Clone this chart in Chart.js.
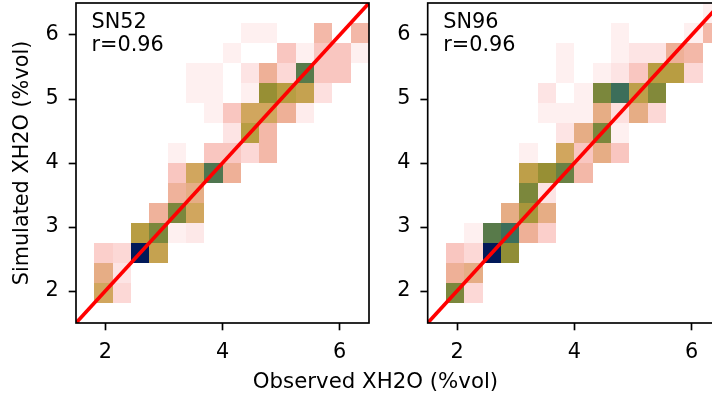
<!DOCTYPE html>
<html>
<head>
<meta charset="utf-8">
<script src="https://cdn.jsdelivr.net/npm/chart.js@4.4.1/dist/chart.umd.min.js"></script>
<style>
  html, body { margin: 0; padding: 0; background: #fff; overflow: hidden; }
  #fig { position: relative; width: 712px; height: 399px; overflow: hidden; background: #fff; }
  #fig canvas { position: absolute; top: 0; }
  #xlabel {
    position: absolute; left: 0; width: 751px; top: 368px;
    text-align: center; font: 21.3px 'DejaVu Sans', sans-serif; line-height: 25px; color: #000;
  }
</style>
</head>
<body>
<div id="fig">
  <canvas id="left" width="372" height="399" style="left:0;width:372px;height:399px"></canvas>
  <canvas id="right" width="358" height="399" style="left:372px;width:358px;height:399px"></canvas>
  <div id="xlabel">Observed XH2O (%vol)</div>
</div>
<script>
// 2-D histogram bin edges (same for both axes), %vol
const binEdges = [1.5, 1.8125, 2.125, 2.4375, 2.75, 3.0625, 3.375, 3.6875, 4,
                  4.3125, 4.625, 4.9375, 5.25, 5.5625, 5.875, 6.1875, 6.5];

// Tick labels
const xTickValues = [2, 4, 6];
const yTickValues = [2, 3, 4, 5, 6];

// Panel titles and correlation
const stationNames = ['SN52', 'SN96'];
const correlations = ['0.96', '0.96'];

// 1:1 reference line
const oneToOneX = [1.5, 6.5];
const oneToOneY = [1.5, 6.5];

// Counts per cell; rows run from the top bin (highest simulated) down,
// columns from the lowest observed bin to the highest.
const countsSN52 = [
  [0,0,0,0,0,0,0,0,0,0,0,0,0,0,0,0],
  [0,0,0,0,0,0,0,0,0,3,3,0,0,18,0,18],
  [0,0,0,0,0,0,0,0,3,0,0,13,3,13,13,3],
  [0,0,0,0,0,0,3,3,0,6,22,9,46,13,13,0],
  [0,0,0,0,0,0,3,3,0,3,38,34,32,7,0,0],
  [0,0,0,0,0,0,0,3,13,30,30,22,4,0,0,0],
  [0,0,0,0,0,0,0,0,6,34,18,0,0,0,0,0],
  [0,0,0,0,0,3,0,13,13,9,18,0,0,0,0,0],
  [0,0,0,0,0,13,30,47,22,0,0,0,0,0,0,0],
  [0,0,0,0,0,21,25,0,0,0,0,0,0,0,0,0],
  [0,0,0,0,21,42,30,0,0,0,0,0,0,0,0,0],
  [0,0,0,34,42,3,5,0,0,0,0,0,0,0,0,0],
  [0,11,9,60,32,0,0,0,0,0,0,0,0,0,0,0],
  [0,25,6,0,0,0,0,0,0,0,0,0,0,0,0,0],
  [0,30,9,0,0,0,0,0,0,0,0,0,0,0,0,0],
  [0,0,0,0,0,0,0,0,0,0,0,0,0,0,0,0]
];

const countsSN96 = [
  [0,0,0,0,0,0,0,0,0,0,0,0,0,0,0,3],
  [0,0,0,0,0,0,0,0,0,0,3,0,0,0,3,18],
  [0,0,0,0,0,0,0,3,0,0,3,6,6,22,18,0],
  [0,0,0,0,0,0,0,3,0,3,6,13,34,34,9,0],
  [0,0,0,0,0,0,6,0,3,42,49,33,41,0,0,0],
  [0,0,0,0,0,0,3,3,3,25,7,25,9,0,0,0],
  [0,0,0,0,0,0,0,6,25,42,3,0,0,0,0,0],
  [0,0,0,0,0,3,0,30,13,25,13,0,0,0,0,0],
  [0,0,0,0,0,33,38,44,18,0,0,0,0,0,0,0],
  [0,0,0,0,0,42,6,0,0,0,0,0,0,0,0,0],
  [0,0,0,0,25,36,25,0,0,0,0,0,0,0,0,0],
  [0,0,3,46,49,22,11,0,0,0,0,0,0,0,0,0],
  [0,13,9,60,39,0,0,0,0,0,0,0,0,0,0,0],
  [0,22,25,0,0,0,0,0,0,0,0,0,0,0,0,0],
  [0,42,9,0,0,0,0,0,0,0,0,0,0,0,0,0],
  [0,0,0,0,0,0,0,0,0,0,0,0,0,0,0,0]
];

// Colour scale: white -> pink -> tan -> olive -> green -> navy
const countMax = 60;
const cmapPos = [0, 0.05, 0.10, 0.15, 0.217, 0.30, 0.367, 0.417, 0.50, 0.567, 0.633, 0.70, 0.767, 0.817, 0.90, 1];
const cmapHex = ['#fffefe', '#fef0f0', '#fde4e4', '#fcd8d6', '#f9c6c0', '#f3b8a8', '#eeb097', '#e6ad85',
                 '#d1a65e', '#b89d42', '#978f34', '#7b873c', '#587a4a', '#3c6e5a', '#1d4a60', '#011959'];

function hexRgb(h) {
  return [parseInt(h.slice(1, 3), 16), parseInt(h.slice(3, 5), 16), parseInt(h.slice(5, 7), 16)];
}
function colorFor(count) {
  const t = Math.min(1, count / countMax);
  for (let k = 1; k < cmapPos.length; k++) {
    if (t <= cmapPos[k]) {
      const f = (t - cmapPos[k - 1]) / (cmapPos[k] - cmapPos[k - 1]);
      const a = hexRgb(cmapHex[k - 1]), b = hexRgb(cmapHex[k]);
      const c = a.map((v, i) => Math.round(v + (b[i] - v) * f));
      return `rgb(${c[0]},${c[1]},${c[2]})`;
    }
  }
  return cmapHex[cmapHex.length - 1];
}

const FONT = { family: "'DejaVu Sans', sans-serif", size: 20.8 };

// Draws the histogram cells under the datasets, then the frame and panel text on top.
const heatmapPlugin = {
  id: 'heatmap',
  beforeDatasetsDraw(chart, args, opts) {
    const { ctx, chartArea: a, scales: { x, y } } = chart;
    const rows = opts.counts;
    const n = rows.length;
    ctx.save();
    ctx.beginPath();
    ctx.rect(a.left, a.top, a.right - a.left, a.bottom - a.top);
    ctx.clip();
    rows.forEach((row, r) => {
      const j = n - 1 - r;
      const y0 = Math.round(y.getPixelForValue(binEdges[j + 1]));
      const y1 = Math.round(y.getPixelForValue(binEdges[j]));
      row.forEach((c, i) => {
        if (!c) return;
        const x0 = Math.round(x.getPixelForValue(binEdges[i]));
        const x1 = Math.round(x.getPixelForValue(binEdges[i + 1]));
        ctx.fillStyle = colorFor(c);
        ctx.fillRect(x0, y0, x1 - x0, y1 - y0);
      });
    });
    ctx.restore();
  },
  afterDatasetsDraw(chart, args, opts) {
    const { ctx, chartArea: a } = chart;
    ctx.save();
    ctx.strokeStyle = '#000';
    ctx.lineWidth = 1.67;
    ctx.strokeRect(a.left, a.top, a.right - a.left, a.bottom - a.top);
    ctx.fillStyle = '#000';
    ctx.font = "20.8px 'DejaVu Sans', sans-serif";
    ctx.textAlign = 'left';
    ctx.textBaseline = 'alphabetic';
    opts.lines.forEach((s, k) => ctx.fillText(s, a.left + 15.5, a.top + 24.5 + k * 23.5));
    ctx.restore();
  }
};

function makePanel(canvasId, counts, name, r, opts) {
  const axisTicks = {
    color: '#000', font: FONT, padding: 10, maxRotation: 0, autoSkip: false
  };
  const tickMarks = {
    display: true, drawOnChartArea: false, drawTicks: true,
    tickLength: 7.3, tickWidth: 1.67, tickColor: '#000'
  };
  return new Chart(document.getElementById(canvasId), {
    type: 'scatter',
    data: {
      datasets: [{
        data: oneToOneX.map((v, i) => ({ x: v, y: oneToOneY[i] })),
        showLine: true,
        borderColor: '#ff0000',
        borderWidth: 3.6,
        pointRadius: 0,
        fill: false
      }]
    },
    options: {
      responsive: false,
      animation: false,
      devicePixelRatio: 1,
      layout: { padding: { top: 3, right: opts.padRight, left: 0, bottom: 0 } },
      plugins: {
        legend: { display: false },
        tooltip: { enabled: false },
        heatmap: { counts: counts, lines: [name, 'r=' + r] }
      },
      scales: {
        x: {
          type: 'linear', min: 1.5, max: 6.5,
          afterBuildTicks: s => { s.ticks = xTickValues.map(v => ({ value: v })); },
          afterFit: s => { s.height = 76; s.paddingLeft = 0; s.paddingRight = 0; },
          ticks: axisTicks,
          grid: tickMarks,
          border: { display: false }
        },
        y: {
          type: 'linear', min: 1.5, max: 6.5,
          afterBuildTicks: s => { s.ticks = yTickValues.map(v => ({ value: v })); },
          afterFit: s => { s.width = opts.yWidth; s.paddingTop = 0; s.paddingBottom = 0; },
          ticks: axisTicks,
          grid: tickMarks,
          border: { display: false },
          title: {
            display: opts.showTitle,
            text: 'Simulated XH2O (%vol)',
            color: '#000',
            font: FONT,
            padding: { top: 10, bottom: 0 }
          }
        }
      }
    },
    plugins: [heatmapPlugin]
  });
}

makePanel('left', countsSN52, stationNames[0], correlations[0], { yWidth: 76, padRight: 3, showTitle: true });
makePanel('right', countsSN96, stationNames[1], correlations[1], { yWidth: 55.7, padRight: 9, showTitle: false });
</script>
</body>
</html>
